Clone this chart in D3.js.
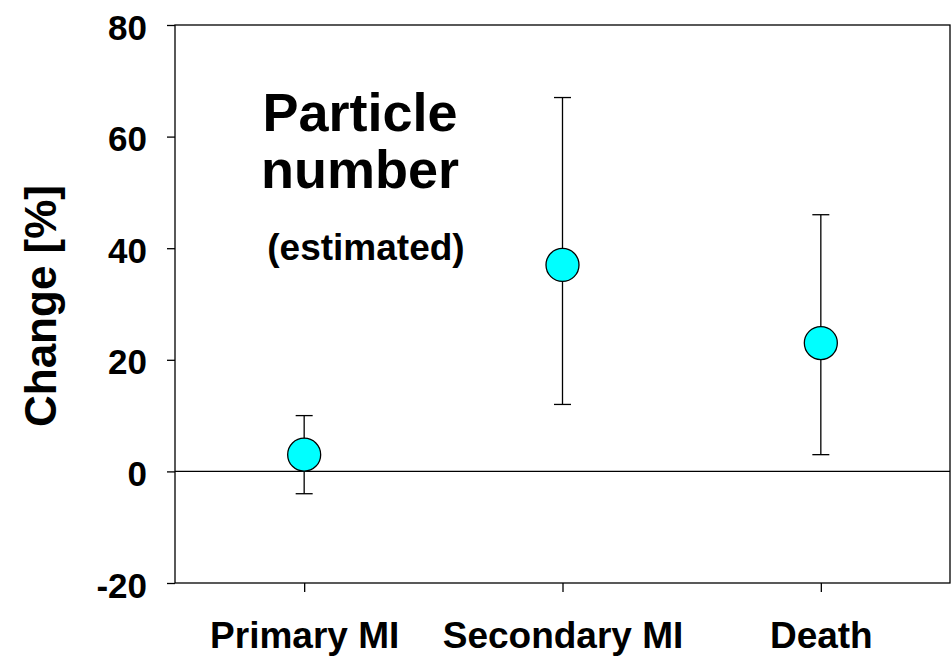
<!DOCTYPE html>
<html><head><meta charset="utf-8">
<script src="https://cdn.jsdelivr.net/npm/d3@7"></script>
<style>body{margin:0;background:#fff}svg{display:block}text{font-family:Arial,"Liberation Sans",sans-serif;font-weight:bold;fill:#000}</style>
</head><body>
<svg id="c" width="952" height="657"></svg>
<script>
const categories = ["Primary MI", "Secondary MI", "Death"];
const values = [3, 37, 23];
const lower = [-4, 12, 3];
const upper = [10, 67, 46];
const yTicks = [-20, 0, 20, 40, 60, 80];

const svg = d3.select("#c");
const L = 175, R = 950, T = 25, B = 583;
const x = d3.scalePoint().domain(categories).range([L, R]).padding(0.5);
const y = d3.scaleLinear().domain([-20, 80]).range([B, T]);
const FF = "Arial, 'Liberation Sans', sans-serif";

// frame
svg.append("rect").attr("x", L).attr("y", T).attr("width", R - L).attr("height", B - T)
  .attr("fill", "none").attr("stroke", "#000").attr("stroke-width", 1.3);

// y axis
const ya = svg.append("g").attr("transform", `translate(${L},0)`)
  .call(d3.axisLeft(y).tickValues(yTicks).tickSize(8).tickPadding(20).tickFormat(d => String(d)));
ya.select(".domain").remove();
ya.selectAll("line").attr("stroke", "#000").attr("stroke-width", 1.3);
ya.selectAll("text").style("font-size", "35px").style("font-family", FF).style("font-weight", "bold").attr("dy", "0.4em");

// x axis
const xa = svg.append("g").attr("transform", `translate(0,${B})`)
  .call(d3.axisBottom(x).tickSize(9));
xa.select(".domain").remove();
xa.selectAll("line").attr("stroke", "#000").attr("stroke-width", 1.3);
xa.selectAll("text").style("font-size", "37px").style("font-family", FF).style("font-weight", "bold")
  .attr("y", 648 - B).attr("dy", null);

// zero line
svg.append("line").attr("x1", L).attr("x2", R).attr("y1", y(0)).attr("y2", y(0))
  .attr("stroke", "#000").attr("stroke-width", 1.3);

// y label
svg.append("text").attr("transform", `translate(56,${(T + B) / 2 + 2}) rotate(-90)`)
  .attr("text-anchor", "middle").style("font-size", "44px").text("Change [%]");

// annotation (two lines in one text element)
const ann = svg.append("text").attr("text-anchor", "middle").style("font-size", "54px");
ann.append("tspan").attr("x", 360).attr("y", 131).text("Particle");
ann.append("tspan").attr("x", 360).attr("y", 188).text("number");
svg.append("text").attr("x", 366).attr("y", 260).attr("text-anchor", "middle").style("font-size", "37px").text("(estimated)");

// error bars
const g = svg.append("g");
categories.forEach((c, i) => {
  const cx = x(c);
  g.append("line").attr("x1", cx).attr("x2", cx).attr("y1", y(lower[i])).attr("y2", y(upper[i])).attr("stroke", "#000").attr("stroke-width", 1.3);
  [lower[i], upper[i]].forEach(v => {
    g.append("line").attr("x1", cx - 8.5).attr("x2", cx + 8.5).attr("y1", y(v)).attr("y2", y(v)).attr("stroke", "#000").attr("stroke-width", 1.3);
  });
  g.append("circle").attr("cx", cx).attr("cy", y(values[i])).attr("r", 16.5)
    .attr("fill", "#00ffff").attr("stroke", "#000").attr("stroke-width", 1.3);
});
</script>
</body></html>
